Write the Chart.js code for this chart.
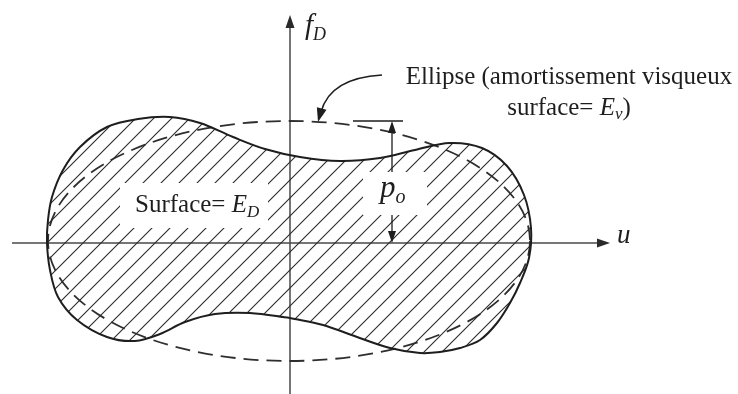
<!DOCTYPE html>
<html>
<head>
<meta charset="utf-8">
<script src="https://cdn.jsdelivr.net/npm/chart.js@4.4.1/dist/chart.umd.min.js"></script>
<style>
  html, body { margin: 0; padding: 0; background: #fff; }
  #wrap { width: 738px; height: 394px; }
</style>
</head>
<body>
<div id="wrap"><canvas id="hysteresis"></canvas></div>
<script>
// Boucle force-déplacement (u, f_D), origine au croisement des axes
const loopU = [0, -40, -75, -105, -130, -155, -183, -213, -232, -240, -243, -242, -238, -227, -210, -183, -152, -120, -90, -57, -25, 10, 50, 90, 125, 160, 192, 217, 234, 241, 239, 230, 220, 207, 190, 170, 150, 130, 100, 67, 33, 0];
const loopF = [-75, -70, -71, -79, -91, -98, -94, -77, -54, -27, 0, 23, 46, 73, 96, 116, 124, 126, 120, 106, 94, 86, 82, 85, 93, 100, 95, 77, 48, 15, -15, -40, -60, -80, -97, -105, -109, -110, -105, -94, -82, -75];

// Ellipse équivalente (amortissement visqueux)
const ellipseCentre = [-1, 2];
const ellipseSemiAxes = [241, 120];

// Étendue des axes u et f_D
const axisU = [-278, 320];
const axisF = [-151, 228];

const ctx = document.getElementById('hysteresis').getContext('2d');
const INK = '#1e1e1e';
const SERIF = '"Liberation Serif", "DejaVu Serif", serif';

function makeHatch() {
  const tile = document.createElement('canvas');
  tile.width = 18; tile.height = 18;
  const t = tile.getContext('2d');
  t.strokeStyle = '#2b2b2b';
  t.lineWidth = 1.1;
  t.beginPath();
  t.moveTo(-1, 19); t.lineTo(19, -1);
  t.moveTo(-1, 1); t.lineTo(1, -1);
  t.moveTo(17, 19); t.lineTo(19, 17);
  t.stroke();
  const p = ctx.createPattern(tile, 'repeat');
  p.setTransform(new DOMMatrix().translate(2, 0));
  return p;
}

// pointe de flèche pleine, direction en pixels
function arrowHead(c, tipX, tipY, dirX, dirY, len, half) {
  const n = Math.hypot(dirX, dirY);
  const ux = dirX / n, uy = dirY / n;
  const bx = tipX - ux * len, by = tipY - uy * len;
  c.beginPath();
  c.moveTo(tipX, tipY);
  c.lineTo(bx - uy * half, by + ux * half);
  c.lineTo(bx + uy * half, by - ux * half);
  c.closePath();
  c.fill();
}

// runs: [texte, police, décalage vertical]
function drawRuns(c, x, y, runs, align) {
  let w = 0;
  runs.forEach(r => { c.font = r[1]; w += c.measureText(r[0]).width; });
  let cx = align === 'center' ? x - w / 2 : x;
  runs.forEach(r => {
    c.font = r[1];
    c.fillText(r[0], cx, y + (r[2] || 0));
    cx += c.measureText(r[0]).width;
  });
}

// Axes et ellipse sous la boucle hachurée
const backdrop = {
  id: 'backdrop',
  beforeDatasetsDraw(chart) {
    const c = chart.ctx, sx = chart.scales.x, sy = chart.scales.y;
    const X = v => sx.getPixelForValue(v), Y = v => sy.getPixelForValue(v);
    c.save();
    c.strokeStyle = '#4a4a4a';
    c.fillStyle = '#2a2a2a';
    c.lineWidth = 1.5;
    c.beginPath();
    c.moveTo(X(axisU[0]), Y(0)); c.lineTo(X(axisU[1]) - 8, Y(0));
    c.moveTo(X(0), Y(axisF[0])); c.lineTo(X(0), Y(axisF[1]) + 8);
    c.stroke();
    arrowHead(c, X(axisU[1]), Y(0), 1, 0, 13, 4.5);
    arrowHead(c, X(0), Y(axisF[1]), 0, -1, 13, 4.5);

    c.strokeStyle = '#2e2e2e';
    c.lineWidth = 1.8;
    c.setLineDash([15, 8]);
    c.beginPath();
    c.ellipse(X(ellipseCentre[0]), Y(ellipseCentre[1]),
      X(ellipseCentre[0] + ellipseSemiAxes[0]) - X(ellipseCentre[0]),
      Y(ellipseCentre[1]) - Y(ellipseCentre[1] + ellipseSemiAxes[1]), 0, 0, Math.PI * 2);
    c.stroke();
    c.restore();
  }
};

// Annotations : p_o, étiquettes et flèche vers l'ellipse
const annotations = {
  id: 'annotations',
  afterDatasetsDraw(chart) {
    const c = chart.ctx, sx = chart.scales.x, sy = chart.scales.y;
    const X = v => sx.getPixelForValue(v), Y = v => sy.getPixelForValue(v);
    const topF = ellipseCentre[1] + ellipseSemiAxes[1];
    c.save();
    c.fillStyle = INK;
    c.strokeStyle = INK;
    c.textBaseline = 'alphabetic';
    c.textAlign = 'left';

    // cote p_o
    const pu = 102;
    c.lineWidth = 1.3;
    c.beginPath();
    c.moveTo(X(63), Y(topF)); c.lineTo(X(113), Y(topF));
    c.moveTo(X(pu), Y(topF) + 8); c.lineTo(X(pu), Y(0) - 8);
    c.stroke();
    arrowHead(c, X(pu), Y(topF), 0, -1, 12, 4);
    arrowHead(c, X(pu), Y(0), 0, 1, 12, 4);

    // fonds blancs sous les étiquettes
    c.fillStyle = '#fff';
    c.fillRect(X(-170), Y(60), 148, 45);
    c.fillRect(X(73), Y(71), 64, 43);

    c.fillStyle = INK;
    drawRuns(c, X(-155), Y(31), [
      ['Surface= ', '25px ' + SERIF],
      ['E', 'italic 25px ' + SERIF],
      ['D', 'italic 17px ' + SERIF, 5]
    ]);
    drawRuns(c, X(90), Y(46), [
      ['p', 'italic 31px ' + SERIF],
      ['o', 'italic 20px ' + SERIF, 6]
    ]);
    drawRuns(c, X(15), Y(209), [
      ['f', 'italic 29px ' + SERIF],
      ['D', 'italic 18px ' + SERIF, 6]
    ]);
    drawRuns(c, X(327), Y(0), [['u', 'italic 27px ' + SERIF]]);

    drawRuns(c, X(279), Y(159.5), [['Ellipse (amortissement visqueux', '25px ' + SERIF]], 'center');
    drawRuns(c, X(279), Y(128), [
      ['surface= ', '25px ' + SERIF],
      ['E', 'italic 25px ' + SERIF],
      ['v', 'italic 17px ' + SERIF, 4],
      [')', '25px ' + SERIF]
    ], 'center');

    // flèche courbe vers l'ellipse
    c.lineWidth = 1.4;
    c.beginPath();
    c.moveTo(X(92), Y(168));
    c.quadraticCurveTo(X(40), Y(165), X(31), Y(131));
    c.stroke();
    arrowHead(c, X(28), Y(topF - 1), -3, 11, 14, 5);
    c.restore();
  }
};

new Chart(ctx, {
  type: 'line',
  data: {
    datasets: [{
      data: loopU.map((u, i) => ({ x: u, y: loopF[i] })),
      borderColor: INK,
      borderWidth: 2,
      backgroundColor: makeHatch(),
      fill: 'shape',
      tension: 0.35,
      pointRadius: 0
    }]
  },
  options: {
    responsive: true,
    maintainAspectRatio: false,
    animation: false,
    devicePixelRatio: 1,
    events: [],
    layout: { padding: 0 },
    plugins: {
      legend: { display: false },
      tooltip: { enabled: false }
    },
    scales: {
      x: { type: 'linear', min: -290, max: 448, display: false },
      y: { type: 'linear', min: -151, max: 243, display: false }
    }
  },
  plugins: [backdrop, annotations]
});
</script>
</body>
</html>
